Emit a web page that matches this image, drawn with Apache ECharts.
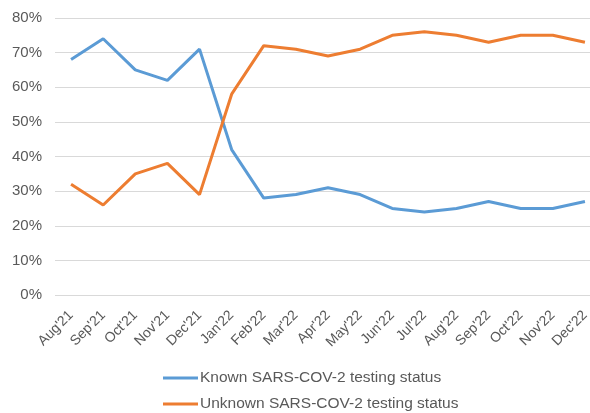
<!DOCTYPE html>
<html>
<head>
    <meta charset="utf-8" />
    <title>SARS-COV-2 testing status</title>
    <script type="text/javascript" src="https://cdn.jsdelivr.net/npm/echarts@6/dist/echarts.min.js"></script>
    <style>
        body { margin: 0; background: #fff; }
    </style>
</head>
<body>
<div id="main" style="width: 590px;height:413px;"></div>
<script type="text/javascript">
    // data
    var months = ["Aug'21", "Sep'21", "Oct'21", "Nov'21", "Dec'21", "Jan'22", "Feb'22", "Mar'22", "Apr'22",
        "May'22", "Jun'22", "Jul'22", "Aug'22", "Sep'22", "Oct'22", "Nov'22", "Dec'22"];
    var known = [68, 74, 65, 62, 71, 42, 28, 29, 31, 29, 25, 24, 25, 27, 25, 25, 27];
    var unknown = [32, 26, 35, 38, 29, 58, 72, 71, 69, 71, 75, 76, 75, 73, 75, 75, 73];
    var seriesNames = ['Known SARS-COV-2 testing status', 'Unknown SARS-COV-2 testing status'];

    var myChart = echarts.init(document.getElementById('main'));
    var font = 'Liberation Sans, Arial, sans-serif';
    var option = {
        animation: false,
        color: ['#5B9BD5', '#ED7D31'],
        textStyle: { fontFamily: font },
        grid: {
            left: 55,
            top: 18,
            width: 546,
            height: 277,
            outerBoundsMode: 'none'
        },
        legend: {
            orient: 'vertical',
            left: 163,
            top: 370,
            padding: 0,
            itemWidth: 35,
            itemHeight: 3,
            itemGap: 10,
            icon: 'rect',
            textStyle: { color: '#595959', fontSize: 15.5, fontFamily: font, padding: [0, 0, 0, -3] },
            data: seriesNames
        },
        xAxis: {
            type: 'category',
            data: months,
            axisLine: { show: false },
            axisTick: { show: false },
            axisLabel: {
                rotate: 45,
                color: '#595959',
                fontSize: 14,
                margin: 18,
                interval: 0
            }
        },
        yAxis: {
            type: 'value',
            min: 0,
            max: 80,
            interval: 10,
            axisLabel: {
                formatter: '{value}%',
                color: '#595959',
                fontSize: 15,
                margin: 13
            },
            splitLine: { lineStyle: { color: '#d9d9d9', width: 1 } }
        },
        series: [
            {
                name: seriesNames[0],
                type: 'line',
                data: known,
                symbol: 'none',
                lineStyle: { width: 3 }
            },
            {
                name: seriesNames[1],
                type: 'line',
                data: unknown,
                symbol: 'none',
                lineStyle: { width: 3 }
            }
        ]
    };
    myChart.setOption(option);
</script>
</body>
</html>
